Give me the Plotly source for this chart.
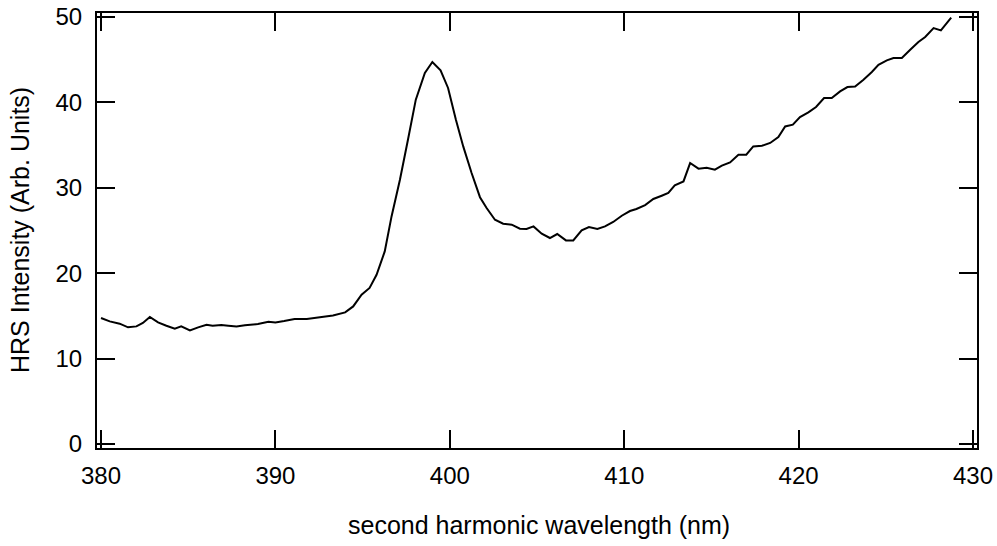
import plotly.graph_objects as go

wavelength_nm = [
    380.0, 380.5, 381.07, 381.55, 382.03, 382.4, 382.8, 383.27, 383.75, 384.23,
    384.6, 385.1, 385.57, 386.05, 386.4, 386.9, 387.3, 387.77, 388.25, 389.0,
    389.6, 390.0, 390.5, 391.1, 391.8, 392.6, 393.3, 394.0, 394.46, 394.94,
    395.4, 395.8, 396.27, 396.66, 397.14, 397.6, 398.05, 398.57, 399.0, 399.47,
    399.9, 400.35, 400.77, 401.25, 401.73, 402.11, 402.59, 403.06, 403.55, 404.02,
    404.4, 404.8, 405.27, 405.74, 406.16, 406.66, 407.08, 407.56, 407.98, 408.46,
    408.9, 409.37, 409.86, 410.33, 410.7, 411.2, 411.67, 412.15, 412.53, 412.9,
    413.4, 413.78, 414.26, 414.73, 415.2, 415.6, 416.07, 416.55, 417.0, 417.4,
    417.9, 418.37, 418.84, 419.23, 419.67, 420.08, 420.56, 421.0, 421.46, 421.9,
    422.38, 422.8, 423.24, 423.72, 424.2, 424.58, 425.06, 425.44, 425.92, 426.4,
    426.87, 427.26, 427.74, 428.16, 428.75,
]
hrs_intensity = [
    14.75, 14.36, 14.09, 13.66, 13.77, 14.17, 14.87, 14.24, 13.85, 13.5,
    13.77, 13.3, 13.65, 13.97, 13.85, 13.93, 13.85, 13.77, 13.9, 14.05,
    14.32, 14.24, 14.4, 14.63, 14.63, 14.87, 15.05, 15.41, 16.11, 17.48,
    18.27, 19.82, 22.55, 26.65, 30.95, 35.63, 40.32, 43.44, 44.73, 43.75,
    41.69, 37.97, 34.85, 31.73, 28.9, 27.63, 26.26, 25.8, 25.68, 25.21,
    25.17, 25.48, 24.62, 24.12, 24.59, 23.84, 23.84, 25.01, 25.41, 25.17,
    25.48, 26.0, 26.73, 27.28, 27.52, 27.98, 28.69, 29.07, 29.39, 30.28,
    30.75, 32.9, 32.24, 32.35, 32.12, 32.59, 32.97, 33.88, 33.88, 34.85,
    34.93, 35.25, 35.95, 37.19, 37.39, 38.29, 38.83, 39.46, 40.51, 40.51,
    41.29, 41.8, 41.87, 42.66, 43.56, 44.41, 44.92, 45.2, 45.2, 46.17,
    47.07, 47.66, 48.71, 48.43, 49.92,
]
x_ticks = [380, 390, 400, 410, 420, 430]
y_ticks = [0, 10, 20, 30, 40, 50]

x_title = "second harmonic wavelength (nm)"
y_title = "HRS Intensity (Arb. Units)"

FONT = "Liberation Sans, Arial, sans-serif"
FS = 24
FS_TITLE = 25

W, H = 997, 546
ML, MR, MT, MB = 97, 20, 13, 98
PW, PH = W - ML - MR, H - MT - MB

fig = go.Figure(
    go.Scatter(
        x=wavelength_nm,
        y=hrs_intensity,
        mode="lines",
        line=dict(color="black", width=2),
        showlegend=False,
        hoverinfo="x+y",
    )
)

axis_common = dict(
    showline=True,
    linecolor="black",
    linewidth=2,
    mirror="ticks",
    ticks="inside",
    ticklen=18,
    tickwidth=2,
    tickcolor="black",
    showgrid=False,
    zeroline=False,
    automargin=False,
    tickfont=dict(family=FONT, size=FS, color="black"),
)

fig.update_xaxes(
    range=[379.77, 430.23],
    tickvals=x_ticks,
    ticktext=[str(v) for v in x_ticks],
    ticklabelstandoff=5,
    **axis_common,
)
fig.update_yaxes(
    range=[-0.47, 50.47],
    tickvals=y_ticks,
    ticktext=[str(v) for v in y_ticks],
    ticklabelstandoff=8,
    **axis_common,
)

fig.update_layout(
    width=W,
    height=H,
    margin=dict(l=ML, r=MR, t=MT, b=MB),
    paper_bgcolor="white",
    plot_bgcolor="white",
    font=dict(family=FONT, size=FS, color="black"),
    annotations=[
        dict(
            text=x_title, xref="paper", yref="paper",
            x=(539 - ML) / PW, y=(H - MB - 525) / PH,
            xanchor="center", yanchor="middle", showarrow=False,
            font=dict(family=FONT, size=FS_TITLE, color="black"),
        ),
        dict(
            text=y_title, xref="paper", yref="paper",
            x=(20 - ML) / PW, y=(H - MB - 230) / PH,
            xanchor="center", yanchor="middle", showarrow=False, textangle=-90,
            font=dict(family=FONT, size=FS_TITLE, color="black"),
        ),
    ],
)

fig.write_html("out.html")
